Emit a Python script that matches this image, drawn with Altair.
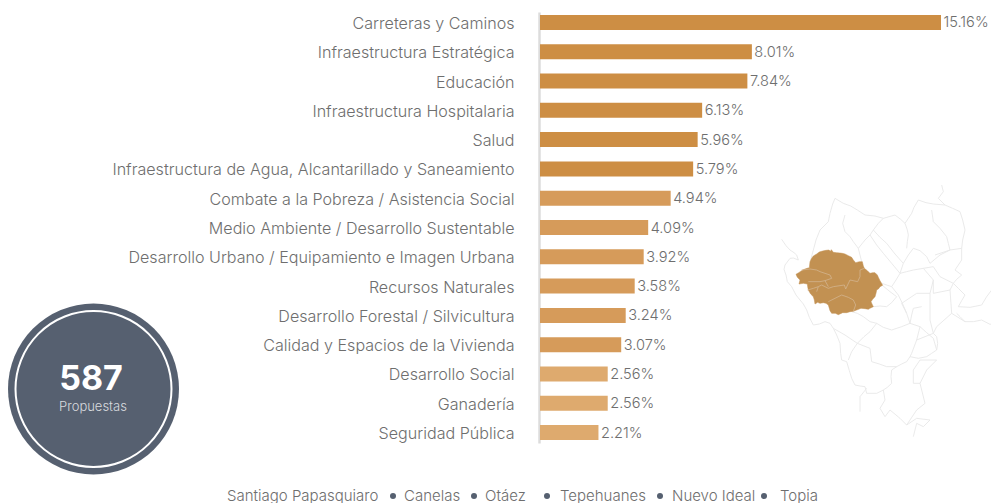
import altair as alt
import pandas as pd

categories = [
    "Carreteras y Caminos", "Infraestructura Estratégica", "Educación",
    "Infraestructura Hospitalaria", "Salud",
    "Infraestructura de Agua, Alcantarillado y Saneamiento",
    "Combate a la Pobreza / Asistencia Social",
    "Medio Ambiente / Desarrollo Sustentable",
    "Desarrollo Urbano / Equipamiento e Imagen Urbana",
    "Recursos Naturales", "Desarrollo Forestal / Silvicultura",
    "Calidad y Espacios de la Vivienda", "Desarrollo Social", "Ganadería",
    "Seguridad Pública",
]
values = [15.16, 8.01, 7.84, 6.13, 5.96, 5.79, 4.94, 4.09, 3.92, 3.58, 3.24, 3.07, 2.56, 2.56, 2.21]
tiers = ["a"] * 6 + ["b"] * 6 + ["c"] * 3

footer_names = ["Santiago Papasquiaro", "Canelas", "Otáez", "Tepehuanes", "Nuevo Ideal", "Topia"]

region_outline = [
    [78, 283], [86, 278], [95, 272], [103, 268], [111, 265], [118, 263], [120, 245], [125, 235], [130, 228],
    [140, 222], [148, 216], [158, 213], [168, 211], [177, 210], [181, 214], [184, 209], [190, 217], [200, 218],
    [210, 219], [217, 220], [225, 222], [235, 227], [245, 232], [250, 240], [257, 248], [268, 245], [277, 245],
    [280, 258], [283, 265], [292, 272], [300, 280], [308, 278], [315, 278], [322, 285], [325, 292], [330, 302],
    [338, 316], [330, 320], [326, 326], [320, 330], [318, 340], [315, 350], [308, 358], [303, 365], [306, 372],
    [310, 380], [300, 385], [295, 388], [285, 386], [273, 385], [260, 390], [250, 394], [240, 395], [230, 398],
    [218, 398], [205, 404], [196, 400], [185, 400], [180, 392], [175, 375], [168, 370], [160, 368], [150, 370],
    [143, 367], [135, 372], [133, 360], [130, 350], [122, 342], [115, 330], [113, 320], [112, 312], [100, 310],
    [87, 312], [90, 300], [82, 292], [78, 283],
]
region_borders = [
    [[95, 270], [120, 267], [140, 270], [150, 275], [180, 285], [185, 295], [165, 302], [150, 305], [115, 305]],
    [[113, 330], [130, 325], [145, 320], [155, 315], [175, 325], [190, 320], [223, 315], [227, 327], [240, 300],
     [263, 305], [270, 290], [270, 270], [283, 265]],
    [[175, 365], [195, 355], [215, 345], [235, 352], [250, 360], [257, 375], [250, 394]],
    [[145, 320], [140, 335]],
    [[165, 302], [175, 320]],
]
state_borders = [
    [[35, 178], [48, 197], [60, 210], [72, 218], [80, 225], [85, 240], [70, 234], [60, 235], [45, 255], [42, 268],
     [48, 285], [52, 305], [65, 320], [78, 345], [90, 360], [100, 372], [110, 390], [118, 412], [130, 435],
     [148, 432], [165, 425], [180, 430], [190, 445], [200, 465], [210, 490], [212, 520], [215, 540], [230, 545],
     [238, 572], [245, 595], [255, 615], [270, 618], [285, 620], [290, 640], [320, 640], [340, 630], [352, 622],
     [365, 610], [363, 590], [365, 570], [380, 560], [395, 552], [410, 545], [420, 530], [445, 535], [470, 530],
     [485, 520], [500, 510], [503, 490], [500, 470], [490, 460]],
    [[515, 15], [520, 35], [505, 55], [525, 75], [548, 85], [570, 95], [578, 120], [585, 150], [578, 180], [575, 205],
     [575, 240], [555, 270], [575, 285], [560, 298], [550, 310], [565, 325], [585, 345], [575, 362], [565, 380],
     [600, 382], [635, 375], [650, 350], [665, 330], [675, 352], [685, 375], [680, 400], [688, 425], [660, 433],
     [635, 420], [610, 425], [585, 425], [570, 410], [560, 400]],
    [[180, 100], [188, 72], [195, 55], [220, 70], [242, 78], [262, 90], [285, 105], [315, 108], [340, 115], [375, 105],
     [392, 118], [405, 130], [412, 150], [415, 165], [412, 185], [410, 205]],
    [[445, 60], [432, 82], [425, 100], [405, 130]],
    [[445, 60], [468, 68], [490, 72], [525, 75]],
    [[485, 90], [490, 125], [510, 145], [530, 170], [535, 190], [540, 210], [575, 205]],
    [[180, 100], [175, 125], [150, 150], [138, 180], [130, 210], [122, 240]],
    [[225, 105], [218, 130], [225, 155], [240, 170], [250, 185], [265, 205], [285, 180], [300, 165], [310, 150],
     [325, 130], [340, 115]],
    [[265, 205], [275, 245]],
    [[300, 165], [320, 195], [340, 220], [365, 250], [390, 280], [400, 250], [415, 225], [430, 205], [450, 212],
     [470, 230], [480, 250], [510, 225], [540, 210]],
    [[310, 150], [330, 172], [350, 190], [375, 222], [400, 250]],
    [[280, 265], [308, 290], [335, 310], [365, 320], [378, 300], [390, 280], [410, 275], [430, 270], [460, 265]],
    [[365, 320], [385, 345], [398, 372], [410, 400], [420, 430], [425, 405], [430, 385], [455, 380]],
    [[338, 317], [360, 335], [380, 350], [365, 368], [350, 380], [330, 378], [310, 380]],
    [[280, 410], [300, 425], [320, 430], [340, 442], [365, 450], [395, 440], [420, 430], [450, 440], [470, 458],
     [490, 475], [500, 510]],
    [[245, 395], [262, 400], [280, 410]],
    [[190, 445], [225, 465], [262, 490], [282, 470], [300, 455], [320, 430]],
    [[262, 490], [300, 505], [305, 545], [328, 552], [350, 560], [380, 560]],
    [[262, 490], [245, 515], [235, 540]],
    [[340, 630], [345, 660], [330, 685], [345, 710], [360, 690], [390, 715], [410, 735], [440, 715],
     [480, 720], [460, 740], [440, 730], [430, 770]],
    [[290, 625], [270, 650], [270, 695]],
    [[430, 610], [430, 570], [450, 540], [500, 540], [470, 570], [450, 610], [430, 610]],
    [[450, 610], [465, 670], [440, 690], [410, 735]],
    [[460, 265], [490, 260], [510, 290], [550, 310]],
    [[495, 225], [540, 210]],
    [[460, 265], [490, 300], [480, 340], [440, 340], [395, 370], [410, 400]],
    [[490, 300], [490, 340], [540, 330], [550, 310]],
    [[480, 340], [480, 420], [490, 460]],
    [[540, 330], [545, 400], [500, 440], [490, 460]],
    [[585, 425], [545, 400]],
    [[450, 440], [440, 480], [425, 520], [420, 530]],
    [[440, 480], [490, 460]],
]

FONT = "Inter"
TEXT = "#6e6e6e"
DARK = "#566070"

df = pd.DataFrame({"cat": categories, "val": values, "tier": tiers})
df["label"] = [f"{v:.2f}%" for v in values]

x = alt.X("val:Q", axis=None, scale=alt.Scale(domain=[0, 15.16], range=[532, 933]))
y = alt.Y(
    "cat:N", sort=categories, title=None,
    scale=alt.Scale(range=[4, 435], paddingInner=0.488, paddingOuter=0.1),
    axis=alt.Axis(
        offset=-531, ticks=False, grid=False, domainColor="#dcdcdc", domainWidth=2.5,
        labelPadding=25, labelFont=FONT, labelFontSize=16.1, labelFontWeight=300,
        labelColor=TEXT, labelLimit=500, labelOffset=1.5,
    ),
)
color = alt.Color("tier:N", legend=None,
                  scale=alt.Scale(domain=["a", "b", "c"], range=["#CD8E44", "#D69B5A", "#DEAA6E"]))

bars = alt.Chart(df).mark_bar(cornerRadius=0).encode(x=x, y=y, color=color)
labels = alt.Chart(df).mark_text(align="left", baseline="middle", dx=2.5, dy=1, font=FONT, fontSize=14.6,
                                 fontWeight=300, color=TEXT).encode(x=x, y=y, text="label:N")

proj = dict(type="identity", scale=1 / 3, translate=[762, 172])
borders = alt.Chart(alt.Data(values=[{"type": "Feature", "properties": {},
                                      "geometry": {"type": "MultiLineString", "coordinates": state_borders}}])
                    ).mark_geoshape(filled=False, stroke="#e8e8e8", strokeWidth=0.9).project(**proj)
region = alt.Chart(alt.Data(values=[{"type": "Feature", "properties": {},
                                     "geometry": {"type": "Polygon", "coordinates": [region_outline]}}])
                   ).mark_geoshape(fill="#C29152", stroke="#C29152", strokeWidth=0.5).project(**proj)
inner = alt.Chart(alt.Data(values=[{"type": "Feature", "properties": {},
                                    "geometry": {"type": "MultiLineString", "coordinates": region_borders}}])
                  ).mark_geoshape(filled=False, stroke="#d3b48e", strokeWidth=0.8).project(**proj)

one = alt.Chart(alt.Data(values=[{"a": 1}]))
disc = one.mark_circle(color=DARK, opacity=1, size=29241).encode(x=alt.value(85.5), y=alt.value(381))
ring = one.mark_point(stroke="white", strokeWidth=2, size=24336, opacity=1, filled=False).encode(
    x=alt.value(85.5), y=alt.value(381))
big = one.mark_text(text="587", font=FONT, fontSize=34, fontWeight=700, color="white",
                    align="center", baseline="middle").encode(x=alt.value(83), y=alt.value(372))
small = one.mark_text(text="Propuestas", font=FONT, fontSize=13, fontWeight=300, color="#d8dbdf",
                      align="center", baseline="middle").encode(x=alt.value(85), y=alt.value(399))

footer_x = [219, 396, 477, 552, 664, 772]
bullet_x = [385, 466, 539, 652, 756]
footer = [one.mark_text(text=n, font=FONT, fontSize=15, fontWeight=300, color=TEXT, align="left",
                        baseline="middle").encode(x=alt.value(px), y=alt.value(487.5))
          for n, px in zip(footer_names, footer_x)]
bullets = [one.mark_circle(color=DARK, opacity=1, size=36).encode(x=alt.value(px), y=alt.value(488))
           for px in bullet_x]

chart = alt.layer(borders, region, inner, bars, labels, disc, ring, big, small, *footer, *bullets).properties(
    width=983, height=495, padding=0,
    autosize=alt.AutoSizeParams(type="none"),
).configure_view(stroke=None).resolve_scale(color="independent")

chart.save("out.html", embed_options={"renderer": "svg", "actions": False})
